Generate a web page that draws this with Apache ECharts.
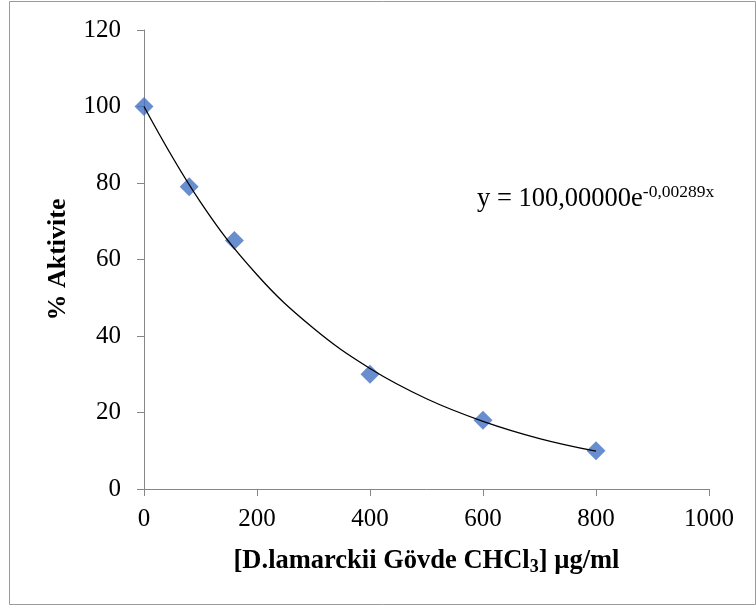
<!DOCTYPE html>
<html>
<head>
<meta charset="utf-8">
<script src="https://cdn.jsdelivr.net/npm/echarts@6/dist/echarts.min.js"></script>
<style>
  html, body { margin: 0; padding: 0; background: #fff; }
  #chart { width: 756px; height: 610px; }
</style>
</head>
<body>
<div id="chart"></div>
<script>
// measured points
var conc = [0, 80, 160, 400, 600, 800];
var activity = [100, 79, 65, 30, 18, 10];
// trend line
var trendX = [0, 100, 200, 300, 400, 500, 600, 700, 800];
var trendY = [100, 75, 56, 42, 31.5, 23.6, 17.7, 13.2, 9.9];
var xTicks = [0, 200, 400, 600, 800, 1000];
var yTicks = [0, 20, 40, 60, 80, 100, 120];

var myChart = echarts.init(document.getElementById('chart'));
var font = '"Liberation Serif", "Times New Roman", serif';

option = {
    animation: false,
    backgroundColor: '#fff',
    grid: { left: 144, right: 47, top: 30, bottom: 121 },
    graphic: [
        {
            type: 'rect',
            shape: { x: 9.5, y: 1.5, width: 746, height: 603 },
            style: { fill: 'none', stroke: '#9a9a9a', lineWidth: 1 },
            silent: true
        },
        {
            type: 'text',
            left: 477, top: 183,
            style: {
                text: '{b|y = 100,00000e}{s|-0,00289x}',
                rich: {
                    b: { fontFamily: font, fontSize: 26.5, fill: '#000' },
                    s: { fontFamily: font, fontSize: 17.5, fill: '#000', verticalAlign: 'top', padding: [0, 0, 14, 0] }
                }
            }
        }
    ],
    xAxis: {
        type: 'value',
        min: 0, max: 1000, interval: 200,
        name: '{t|[D.lamarckii Gövde CHCl}{sub|3}{t|] µg/ml}',
        nameLocation: 'middle',
        nameGap: 57,
        nameTextStyle: {
            rich: {
                t: { fontFamily: font, fontSize: 26.5, fontWeight: 'bold', color: '#000' },
                sub: { fontFamily: font, fontSize: 18, fontWeight: 'bold', color: '#000', verticalAlign: 'bottom', padding: [12, 0, 0, 0] }
            }
        },
        axisLine: { show: true, lineStyle: { color: '#868686', width: 1 } },
        axisTick: { show: true, inside: false, length: 7, lineStyle: { color: '#868686' } },
        axisLabel: {
            fontFamily: font, fontSize: 25, color: '#000', margin: 18,
            formatter: function (v) { return String(v); }
        },
        splitLine: { show: false }
    },
    yAxis: {
        type: 'value',
        min: 0, max: 120, interval: 20,
        name: '% Aktivite',
        nameLocation: 'middle',
        nameGap: 73,
        nameTextStyle: { fontFamily: font, fontSize: 26, fontWeight: 'bold', color: '#000' },
        axisLine: { show: true, lineStyle: { color: '#868686', width: 1 } },
        axisTick: { show: true, inside: false, length: 7, lineStyle: { color: '#868686' } },
        axisLabel: { fontFamily: font, fontSize: 25, color: '#000', margin: 23 },
        splitLine: { show: false }
    },
    series: [
        {
            name: 'trend',
            type: 'line',
            data: trendX.map(function (x, i) { return [x, trendY[i]]; }),
            smooth: 0.4,
            symbol: 'none',
            lineStyle: { color: '#000', width: 1.3 },
            z: 3
        },
        {
            name: 'data',
            type: 'scatter',
            data: conc.map(function (x, i) { return [x, activity[i]]; }),
            symbol: 'diamond',
            symbolSize: [19, 19],
            itemStyle: { color: '#4472C4' },
            z: 2
        }
    ]
};

myChart.setOption(option);
</script>
</body>
</html>
